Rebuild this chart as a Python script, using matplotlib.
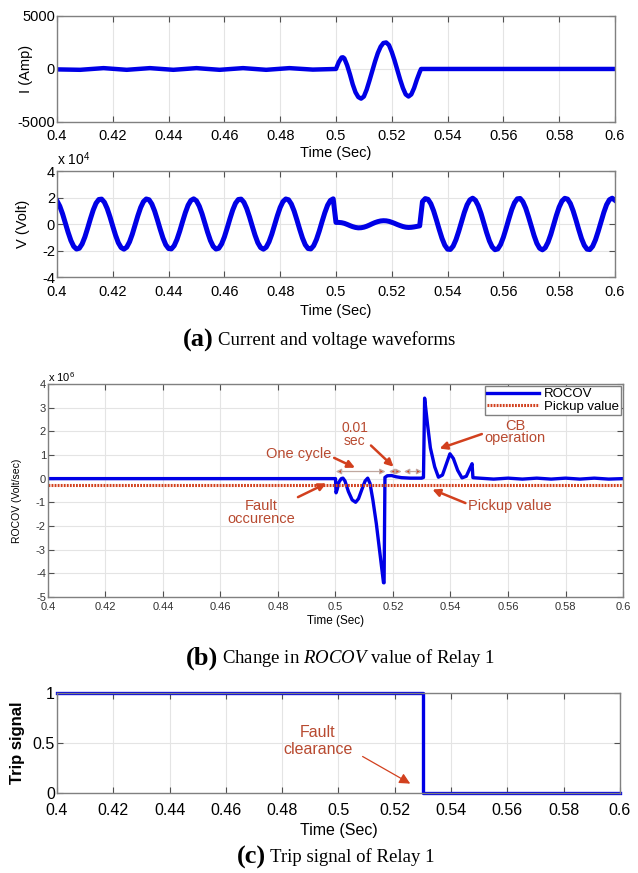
import numpy as np
import matplotlib.pyplot as plt
from matplotlib.lines import Line2D
from matplotlib.ticker import FixedLocator

plt.rcParams['font.family'] = ['Liberation Sans', 'DejaVu Sans']
plt.rcParams['axes.unicode_minus'] = False
plt.rcParams['mathtext.fontset'] = 'custom'
plt.rcParams['mathtext.rm'] = 'Liberation Sans'
plt.rcParams['mathtext.it'] = 'Liberation Serif:italic'

BLUE = '#0000e6'
RED = '#d2401e'
TXT = '#b84a30'
FRAME = '#808080'

time_ticks = [0.4, 0.42, 0.44, 0.46, 0.48, 0.5, 0.52, 0.54, 0.56, 0.58, 0.6]
time_labels = ['0.4', '0.42', '0.44', '0.46', '0.48', '0.5',
               '0.52', '0.54', '0.56', '0.58', '0.6']

# line current (A)
cur_t = [0.4000, 0.4083, 0.4167, 0.4250, 0.4333, 0.4417, 0.4500, 0.4583,
         0.4667, 0.4750, 0.4833, 0.4917, 0.5000,
         0.5010, 0.5020, 0.5025, 0.5030, 0.5040, 0.5050, 0.5060, 0.5070,
         0.5080, 0.5090, 0.5100, 0.5110, 0.5120, 0.5130, 0.5140, 0.5150,
         0.5160, 0.5170, 0.5180, 0.5190, 0.5200, 0.5210, 0.5220, 0.5230,
         0.5240, 0.5250, 0.5260, 0.5270, 0.5280, 0.5290, 0.5300, 0.5305,
         0.6000]
cur = [-40, -80, 80, -80, 80, -80, 80, -80, 80, -80, 80, -60, 0,
       650, 1080, 1100, 1000, 350, -500, -1450, -2200,
       -2650, -2800, -2600, -1950, -1100, -200, 700, 1500,
       2100, 2450, 2500, 2250, 1600, 800, -100, -1000,
       -1800, -2400, -2600, -2400, -1800, -1000, -300, 0,
       0]

# bus voltage (x 10^4 V), sampled every 1 ms from 0.400 s to 0.600 s
volt_t = np.arange(400, 601) / 1000
volt = [
    1.75, 1.35, 0.77, 0.07, -0.63, -1.25, -1.69, -1.89, -1.83, -1.51,
    -0.98, -0.31, 0.40, 1.06, 1.57, 1.85, 1.88, 1.64, 1.17, 0.54,
    -0.17, -0.85, -1.42, -1.78, -1.90, -1.75, -1.35, -0.77, -0.07, 0.63,
    1.25, 1.69, 1.89, 1.83, 1.51, 0.98, 0.31, -0.40, -1.06, -1.57,
    -1.85, -1.88, -1.64, -1.17, -0.54, 0.17, 0.85, 1.42, 1.78, 1.90,
    1.75, 1.35, 0.77, 0.07, -0.63, -1.25, -1.69, -1.89, -1.83, -1.51,
    -0.98, -0.31, 0.40, 1.06, 1.57, 1.85, 1.88, 1.64, 1.17, 0.54,
    -0.17, -0.85, -1.42, -1.78, -1.90, -1.75, -1.35, -0.77, -0.07, 0.63,
    1.25, 1.69, 1.89, 1.83, 1.51, 0.98, 0.31, -0.40, -1.06, -1.57,
    -1.85, -1.88, -1.64, -1.17, -0.54, 0.17, 0.85, 1.42, 1.78, 1.90,
    0.12, 0.12, 0.10, 0.05, -0.03, -0.12, -0.20, -0.26, -0.29, -0.28,
    -0.24, -0.17, -0.08, 0.02, 0.11, 0.18, 0.23, 0.25, 0.24, 0.20,
    0.13, 0.05, -0.04, -0.12, -0.19, -0.24, -0.26, -0.25, -0.22, -0.18,
    -0.14, 1.69, 1.92, 1.86, 1.53, 0.99, 0.31, -0.41, -1.08, -1.60,
    -1.90, -1.92, -1.67, -1.19, -0.55, 0.17, 0.87, 1.45, 1.82, 1.95,
    1.79, 1.38, 0.79, 0.07, -0.65, -1.28, -1.73, -1.94, -1.88, -1.55,
    -1.00, -0.32, 0.41, 1.09, 1.61, 1.90, 1.93, 1.68, 1.20, 0.55,
    -0.17, -0.87, -1.46, -1.83, -1.95, -1.79, -1.38, -0.79, -0.07, 0.65,
    1.28, 1.73, 1.94, 1.88, 1.55, 1.00, 0.32, -0.41, -1.09, -1.61,
    -1.90, -1.93, -1.68, -1.20, -0.55, 0.17, 0.87, 1.46, 1.83, 1.95,
    1.79,
]

# rate of change of voltage (x 10^6 V/s)
rocov_t = [0.4000, 0.5000, 0.5002, 0.5006, 0.5012, 0.5020, 0.5026, 0.5033,
           0.5045, 0.5058, 0.5070, 0.5080, 0.5092, 0.5103, 0.5112, 0.5120,
           0.5130, 0.5142, 0.5152, 0.5160, 0.5167, 0.5169, 0.5172, 0.5180,
           0.5195, 0.5210, 0.5230, 0.5260, 0.5300, 0.5306, 0.5310, 0.5320,
           0.5330, 0.5345, 0.5358, 0.5372, 0.5385, 0.5398, 0.5410, 0.5425,
           0.5440, 0.5455, 0.5468, 0.5475, 0.5478, 0.5500, 0.5550, 0.5600,
           0.5650, 0.5700, 0.5750, 0.5800, 0.5850, 0.5900, 0.5950, 0.6000]
rocov = [0.0, 0.0, -0.60, -0.45, -0.15, 0.0, 0.02, -0.10,
         -0.55, -0.90, -1.00, -0.85, -0.45, -0.10, 0.02, -0.20,
         -0.90, -1.90, -2.90, -3.70, -4.40, -4.40, 0.05, 0.12,
         0.13, 0.08, 0.04, 0.02, 0.02, 0.05, 3.40, 2.30,
         1.30, 0.50, 0.06, 0.15, 0.60, 1.05, 0.85, 0.35,
         0.03, 0.10, 0.45, 0.63, 0.04, 0.02, -0.02, 0.02,
         -0.02, 0.02, -0.02, 0.02, -0.02, 0.02, -0.02, 0.0]
pickup = -0.25

# relay trip command
trip_t = [0.4, 0.53, 0.53, 0.6]
trip = [1, 1, 0, 0]


def style(ax, fs, tick_color='black', xpad=1.5):
    ax.set_xlim(0.4, 0.6)
    ax.xaxis.set_major_locator(FixedLocator(time_ticks))
    ax.set_xticklabels(time_labels)
    ax.tick_params(direction='in', top=True, right=True, length=4,
                   width=0.8, color='#505050', labelsize=fs,
                   labelcolor=tick_color, pad=1.5)
    ax.tick_params(axis='x', pad=xpad)
    ax.grid(True, color='#e4e4e4', linewidth=0.8)
    ax.set_axisbelow(True)
    for s in ax.spines.values():
        s.set_color(FRAME)
        s.set_linewidth(1.0)


fig = plt.figure(figsize=(6.38, 8.73), dpi=100)

# (a) current
ax1 = fig.add_axes([0.0893, 0.8603, 0.8746, 0.1214])
ax1.plot(cur_t, cur, color=BLUE, lw=3.2, solid_capstyle='butt')
ax1.set_ylim(-5000, 5000)
ax1.set_yticks([-5000, 0, 5000])
style(ax1, 10.5, xpad=5)
ax1.set_ylabel('I (Amp)', fontsize=10.5)
ax1.yaxis.set_label_coords(-0.043, 0.5)
ax1.set_xlabel('Time (Sec)', fontsize=10.5, labelpad=2)

# (a) voltage
ax2 = fig.add_axes([0.0893, 0.6827, 0.8746, 0.1214])
ax2.plot(volt_t, volt, color=BLUE, lw=3.6)
ax2.set_ylim(-4, 4)
ax2.set_yticks([-4, -2, 0, 2, 4])
style(ax2, 10.5, xpad=6)
ax2.set_ylabel('V (Volt)', fontsize=10.5)
ax2.yaxis.set_label_coords(-0.048, 0.5)
ax2.set_xlabel('Time (Sec)', fontsize=10.5, labelpad=3)
ax2.text(0.0, 1.03, r'x 10$^{4}$', transform=ax2.transAxes, fontsize=10,
         ha='left', va='bottom')

# (b) ROCOV
ax3 = fig.add_axes([0.0752, 0.3162, 0.9013, 0.244])
ax3.plot(rocov_t, rocov, color=BLUE, lw=2.4)
ax3.axhline(pickup, color=RED, lw=2.2, ls=(0, (0.6, 0.4)))
ax3.set_ylim(-5, 4)
ax3.set_yticks(range(-5, 5))
style(ax3, 8, tick_color='#333333', xpad=3.5)
ax3.set_ylabel('ROCOV (Volt/sec)', fontsize=7.5)
ax3.yaxis.set_label_coords(-0.045, 0.45)
ax3.set_xlabel('Time (Sec)', fontsize=8.5, labelpad=2)
ax3.text(0.0, 1.0, r'x 10$^{6}$', transform=ax3.transAxes, fontsize=8,
         ha='left', va='bottom')
handles = [Line2D([], [], color=BLUE, lw=2.4),
           Line2D([], [], color=RED, lw=2.2, ls=(0, (0.6, 0.4)))]
leg = ax3.legend(handles, ['ROCOV', 'Pickup value'], loc='upper right',
                 fontsize=9.5, fancybox=False, framealpha=1,
                 edgecolor=FRAME, handlelength=3.9, borderaxespad=0.15,
                 borderpad=0.15, labelspacing=0.05, handletextpad=0.4)
leg.get_frame().set_linewidth(1.0)

arrow = dict(arrowstyle='-|>', color=RED, lw=1.8, mutation_scale=11,
             shrinkA=0, shrinkB=0)
ax3.annotate('One cycle', xy=(0.5068, 0.46), xytext=(0.4872, 1.05),
             ha='center', va='center', color=TXT, fontsize=10.5,
             arrowprops=dict(arrow, relpos=(1.0, 0.3)))
ax3.annotate('0.01\nsec', xy=(0.5202, 0.5), xytext=(0.5067, 1.85),
             ha='center', va='center', color=TXT, fontsize=10,
             linespacing=0.9, arrowprops=dict(arrow, relpos=(1.0, 0.2)))
ax3.annotate('CB\noperation', xy=(0.5362, 1.27), xytext=(0.5625, 1.98),
             ha='center', va='center', color=TXT, fontsize=10.5,
             linespacing=0.85, arrowprops=dict(arrow, relpos=(0.0, 0.45)))
ax3.annotate('Fault\noccurence', xy=(0.4968, -0.2), xytext=(0.4742, -1.43),
             ha='center', va='center', color=TXT, fontsize=10.5,
             linespacing=0.9, arrowprops=dict(arrow, relpos=(0.78, 0.75)))
ax3.annotate('Pickup value', xy=(0.5337, -0.46), xytext=(0.5607, -1.14),
             ha='center', va='center', color=TXT, fontsize=10.5,
             arrowprops=dict(arrow, relpos=(0.0, 0.6)))
span = dict(arrowstyle='<|-|>', fc=RED, ec='#c0a8a0', lw=0.9,
            mutation_scale=8, shrinkA=0, shrinkB=0)
for x0, x1 in [(0.5001, 0.5174), (0.5186, 0.5230), (0.5238, 0.5302)]:
    ax3.annotate('', xy=(x1, 0.3), xytext=(x0, 0.3), arrowprops=span)

# (c) trip signal
ax4 = fig.add_axes([0.0893, 0.0916, 0.8824, 0.1145])
ax4.plot(trip_t, trip, color=BLUE, lw=2.4, clip_on=False)
ax4.set_ylim(0, 1)
ax4.set_yticks([0, 0.5, 1])
ax4.set_yticklabels(['0', '0.5', '1'])
style(ax4, 11.5, xpad=7)
ax4.set_ylabel('Trip signal', fontsize=12, fontweight='bold')
ax4.yaxis.set_label_coords(-0.057, 0.5)
ax4.set_xlabel('Time (Sec)', fontsize=11.5, labelpad=4)
ax4.annotate('Fault\nclearance', xy=(0.5255, 0.094), xytext=(0.4927, 0.52),
             ha='center', va='center', color=TXT, fontsize=11.5,
             linespacing=1.2,
             arrowprops=dict(arrowstyle='-|>', color=RED, lw=0.9,
                             mutation_scale=16, shrinkA=6, shrinkB=0,
                             relpos=(1.0, 0.2)))

# panel captions
serif = 'Liberation Serif'
for y, tag, body, x in [(340, '(a)', 'Current and voltage waveforms', 214),
                        (658, '(b)', r'Change in $\mathit{ROCOV}$ value of Relay 1', 218),
                        (857, '(c)', 'Trip signal of Relay 1', 266)]:
    fy = 1 - y / 873
    fig.text(x / 638, fy, tag, family=serif, fontweight='bold', fontsize=19,
             ha='right', va='center')
    fig.text((x + 4) / 638, fy, body, family=serif, fontsize=13.5,
             ha='left', va='center')

fig.savefig('out.png', dpi=100)
